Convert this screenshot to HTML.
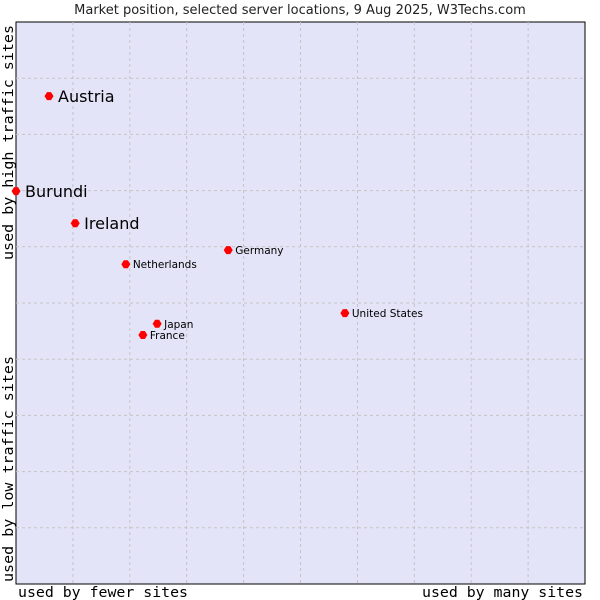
<!DOCTYPE html>
<html><head><meta charset="utf-8"><style>
body{margin:0;background:#fff;}
svg{display:block;}
</style></head><body>
<svg id="chart" width="600" height="600" xmlns="http://www.w3.org/2000/svg">
<text x="300" y="14" text-anchor="middle" font-family="DejaVu Sans, sans-serif" font-size="13" fill="#222">Market position, selected server locations, 9 Aug 2025, W3Techs.com</text>
<rect x="16" y="22" width="569" height="562" fill="#e4e4f8" stroke="#000" stroke-width="1"/>
<g id="grid"></g>
<g id="points"></g>
<text x="18" y="597" textLength="170" lengthAdjust="spacingAndGlyphs" font-family="DejaVu Sans Mono, monospace" font-size="14" fill="#000">used by fewer sites</text>
<text x="422" y="597" textLength="161" lengthAdjust="spacingAndGlyphs" font-family="DejaVu Sans Mono, monospace" font-size="14" fill="#000">used by many sites</text>
<text transform="translate(13,260) rotate(-90)" textLength="235" lengthAdjust="spacingAndGlyphs" font-family="DejaVu Sans Mono, monospace" font-size="14" fill="#000">used by high traffic sites</text>
<text transform="translate(13,582) rotate(-90)" textLength="226" lengthAdjust="spacingAndGlyphs" font-family="DejaVu Sans Mono, monospace" font-size="14" fill="#000">used by low traffic sites</text>
</svg>
<script>
const countries=["Austria","Burundi","Ireland","Germany","Netherlands","United States","Japan","France"];
const xValues=[0.58,0.0,1.04,3.73,1.93,5.78,2.48,2.23];
const yValues=[8.68,6.99,6.42,5.94,5.69,4.82,4.63,4.43];
const bigLabel=[true,true,true,false,false,false,false,false];
const X0=16,X1=585,Y0=584,Y1=22;
const sx=v=>X0+v/10*(X1-X0);
const sy=v=>Y0-v/10*(Y0-Y1);
const NS="http://www.w3.org/2000/svg";
const grid=document.getElementById('grid');
for(let i=1;i<10;i++){
  const lv=document.createElementNS(NS,'line');
  lv.setAttribute('x1',sx(i));lv.setAttribute('x2',sx(i));lv.setAttribute('y1',Y1);lv.setAttribute('y2',Y0);
  lv.setAttribute('stroke','#c4c4c4');lv.setAttribute('stroke-dasharray','3,3');
  
  
  grid.appendChild(lv);
  const lh=document.createElementNS(NS,'line');
  lh.setAttribute('y1',sy(i));lh.setAttribute('y2',sy(i));lh.setAttribute('x1',X0);lh.setAttribute('x2',X1);
  lh.setAttribute('stroke','#c4c4c4');lh.setAttribute('stroke-dasharray','3,3');
  
  
  grid.appendChild(lh);
}
const pts=document.getElementById('points');
countries.forEach((c,i)=>{
  const x=sx(xValues[i]),y=sy(yValues[i]);
  const p=document.createElementNS(NS,'path');
  p.setAttribute('d',`M${x-4.5},${y} L${x-2},${y-4} L${x+2},${y-4} L${x+4.5},${y} L${x+2},${y+4} L${x-2},${y+4} Z`);
  p.setAttribute('fill','#f00');
  
  
  pts.appendChild(p);
  const t=document.createElementNS(NS,'text');
  t.setAttribute('x',x+(bigLabel[i]?9:7));
  t.setAttribute('y',y+(bigLabel[i]?6:4));
  t.setAttribute('font-family','DejaVu Sans, sans-serif');
  t.setAttribute('font-size',bigLabel[i]?16:10.5);
  t.setAttribute('fill','#000');
  t.textContent=c;
  
  
  pts.appendChild(t);
});
</script>
</body></html>
